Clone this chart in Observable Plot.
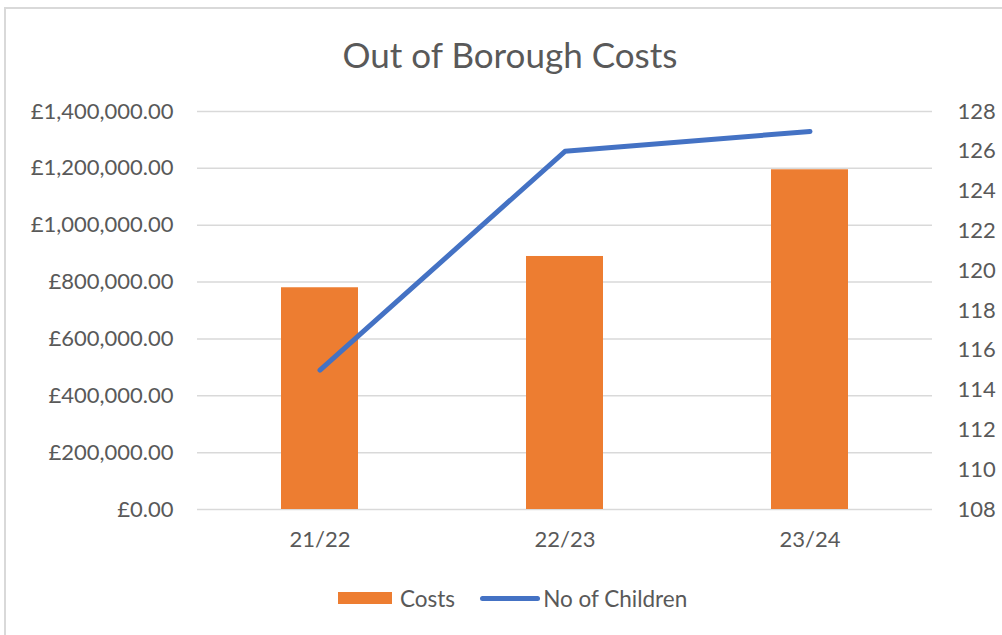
<!DOCTYPE html>
<html>
<head>
<meta charset="utf-8">
<script src="https://cdn.jsdelivr.net/npm/d3@7"></script>
<script src="https://cdn.jsdelivr.net/npm/@observablehq/plot@0.6"></script>
<style>
  html, body { margin: 0; padding: 0; background: #fff; }
  #wrap { position: relative; width: 1002px; height: 635px; overflow: hidden; font-family: Lato, "Open Sans", sans-serif; color: #595959; }
  #frame { position: absolute; left: 4px; top: 7px; width: 1100px; height: 700px; border: 2px solid #d9d9d9; box-sizing: border-box; }
  #title { position: absolute; left: 0; width: 1020px; top: 32px; text-align: center; font-size: 35px; line-height: 44px; color: #595959; }
  #chart { position: absolute; left: 0; top: 90px; }
  #legend { position: absolute; top: 585px; left: 338px; height: 26px; display: flex; align-items: center; font-size: 22.5px; color: #595959; }
  .sw-bar { width: 54px; height: 12px; background: #ED7D31; margin-right: 8px; }
  .sw-line { width: 60px; height: 5px; border-radius: 3px; background: #4472C4; margin-left: 25px; margin-right: 3px; }
</style>
</head>
<body>
<div id="wrap">
  <div id="frame"></div>
  <div id="title">Out of Borough Costs</div>
  <div id="chart"></div>
  <div id="legend">
    <div class="sw-bar"></div><span>Costs</span>
    <div class="sw-line"></div><span>No of Children</span>
  </div>
</div>
<script>
const years = ["21/22", "22/23", "23/24"];
const costs = [780000, 890000, 1195000];
const children = [115, 126, 127];
const costTicks = [0, 200000, 400000, 600000, 800000, 1000000, 1200000, 1400000];
const childTicks = [108, 110, 112, 114, 116, 118, 120, 122, 124, 126, 128];

const costMax = 1400000, childMin = 108, childMax = 128;
const toCost = c => (c - childMin) / (childMax - childMin) * costMax;
const toChild = v => Math.round(childMin + v / costMax * (childMax - childMin));

const rows = years.map((y, i) => ({year: y, cost: costs[i], kids: children[i]}));
const fmt = d3.format(",.2f");

const chart = Plot.plot({
  width: 1002,
  height: 480,
  marginTop: 21,
  marginBottom: 61,
  marginLeft: 197,
  marginRight: 70,
  style: {fontFamily: "Lato, 'Open Sans', sans-serif", fontSize: "22px", color: "#595959", background: "transparent", overflow: "visible"},
  x: {domain: years, paddingInner: 0.686, paddingOuter: 0.343, label: null},
  y: {domain: [0, costMax], label: null},
  marks: [
    Plot.ruleY(costTicks, {stroke: "#d9d9d9", strokeWidth: 1.5, strokeOpacity: 1}),
    Plot.barY(rows, {x: "year", y: "cost", fill: "#ED7D31"}),
    Plot.line(rows, {x: "year", y: d => toCost(d.kids), stroke: "#4472C4", strokeWidth: 5, strokeLinecap: "round", strokeLinejoin: "round"}),
    Plot.axisY(costTicks, {anchor: "left", tickSize: 0, tickPadding: 24, tickFormat: d => "£" + fmt(d), label: null, fill: "#595959"}),
    Plot.axisY(childTicks.map(toCost), {anchor: "right", tickSize: 0, tickPadding: 25, tickFormat: toChild, label: null, fill: "#595959"}),
    Plot.axisX({tickSize: 0, tickPadding: 22, label: null, fill: "#595959"})
  ]
});
document.getElementById("chart").appendChild(chart);
</script>
</body>
</html>
